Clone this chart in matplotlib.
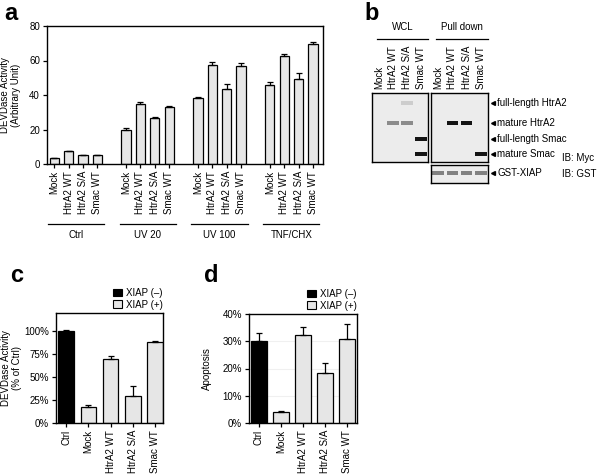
import matplotlib
matplotlib.use("Agg")
import matplotlib.pyplot as plt
import matplotlib.transforms as mtrans
from matplotlib.patches import Rectangle, Patch
import numpy as np

plt.rcParams['font.family'] = ['Liberation Sans', 'DejaVu Sans']
plt.rcParams['axes.linewidth'] = 1.0

# ---------------- data ----------------
a_groups = ["Ctrl", "UV 20", "UV 100", "TNF/CHX"]
a_samples = ["Mock", "HtrA2 WT", "HtrA2 S/A", "Smac WT"]
a_ctrl = [3.5, 7.5, 5.2, 5.5]
a_ctrl_err = [0.0, 0.0, 0.0, 0.0]
a_uv20 = [19.5, 35.0, 26.5, 33.0]
a_uv20_err = [1.3, 1.0, 0.6, 0.7]
a_uv100 = [38.0, 57.5, 43.5, 57.0]
a_uv100_err = [1.0, 1.5, 3.0, 1.3]
a_tnf = [46.0, 62.5, 49.5, 69.5]
a_tnf_err = [1.5, 1.5, 3.5, 1.0]

cd_labels = ["Ctrl", "Mock", "HtrA2 WT", "HtrA2 S/A", "Smac WT"]
cd_xiap = [False, True, True, True, True]
c_vals = [100, 17, 70, 29, 88]
c_err = [2, 3, 3, 11, 2]
d_vals = [30.0, 4.0, 32.3, 18.5, 31.0]
d_err = [3.0, 0.4, 3.0, 3.5, 5.5]

blot_lanes = ["Mock", "HtrA2 WT", "HtrA2 S/A", "Smac WT"]
blot_bands = ["full-length HtrA2", "mature HtrA2", "full-length Smac", "mature Smac"]
wcl_intensity = [[0, 0, 0.15, 0],
                 [0, 0.45, 0.45, 0],
                 [0, 0, 0, 1.0],
                 [0, 0, 0, 1.0]]
pd_intensity = [[0, 0, 0, 0],
                [0, 1.0, 1.0, 0],
                [0, 0, 0, 0],
                [0, 0, 0, 1.0]]
gst_intensity = [0.5, 0.5, 0.5, 0.5]

# ---------------- figure ----------------
W, H = 600, 476
fig = plt.figure(figsize=(6.0, 4.76), dpi=100)

def rect(l, t, r, b):
    return [l / W, 1 - b / H, (r - l) / W, (b - t) / H]

GRAY = '#e6e6e6'
FS = 7

def style(ax):
    ax.tick_params(direction='out', length=3, width=0.9, labelsize=FS, pad=2)

# ---- panel a ----
ax_a = fig.add_axes(rect(47, 26, 323, 164))
series = [(a_ctrl, a_ctrl_err), (a_uv20, a_uv20_err), (a_uv100, a_uv100_err), (a_tnf, a_tnf_err)]
pos_all, lab_all = [], []
for g, (vals, errs) in enumerate(series):
    pos = [g * 5 + i for i in range(len(vals))]
    ax_a.bar(pos, vals, width=0.65, color=GRAY, edgecolor='black', linewidth=0.9,
             yerr=[np.zeros(len(errs)), errs], capsize=2.3,
             error_kw=dict(elinewidth=0.9, capthick=0.9, ecolor='black'))
    pos_all += pos
    lab_all += a_samples
ax_a.set_xticks(pos_all)
ax_a.set_xticklabels(lab_all, rotation=90)
ax_a.set_xlim(-0.5, 18.7)
ax_a.set_ylim(0, 80)
ax_a.set_yticks([0, 20, 40, 60, 80])
style(ax_a)
ax_a.set_ylabel("DEVDase Activity\n(Arbitrary Unit)", fontsize=FS, linespacing=1.1)
ax_a.yaxis.set_label_coords(-0.094, 0.5)
tr = mtrans.blended_transform_factory(ax_a.transData, ax_a.transAxes)
for g, name in enumerate(a_groups):
    ax_a.plot([g * 5 - 0.45, g * 5 + 3.45], [-0.435, -0.435], color='black', lw=0.9,
              transform=tr, clip_on=False)
    ax_a.text(g * 5 + 1.5, -0.515, name, transform=tr, ha='center', va='center', fontsize=FS)

# ---- panels c and d ----
def cd_panel(box, vals, errs, ylim, yticks, xlim, ylab, labx, grid=False):
    ax = fig.add_axes(rect(*box))
    x = np.arange(len(vals))
    colors = [GRAY if f else 'black' for f in cd_xiap]
    if grid:
        for yt in yticks[1:-1]:
            ax.axhline(yt, color='#f0f0f0', lw=0.8, zorder=0)
    ax.bar(x, vals, width=0.7, color=colors, edgecolor='black', linewidth=0.9,
           yerr=[np.zeros(len(errs)), errs], capsize=2.5,
           error_kw=dict(elinewidth=0.9, capthick=0.9, ecolor='black'), zorder=2)
    ax.set_xticks(x)
    ax.set_xticklabels(cd_labels, rotation=90)
    ax.set_xlim(*xlim)
    ax.set_ylim(*ylim)
    ax.set_yticks(yticks)
    ax.set_yticklabels([f"{t}%" for t in yticks])
    style(ax)
    ax.set_ylabel(ylab, fontsize=FS, linespacing=1.1)
    ax.yaxis.set_label_coords(labx, 0.5)
    handles = [Patch(facecolor='black', edgecolor='black', lw=0.8, label='XIAP (–)'),
               Patch(facecolor=GRAY, edgecolor='black', lw=0.8, label='XIAP (+)')]
    ax.legend(handles=handles, loc='lower right', bbox_to_anchor=(1.0, 1.03),
              frameon=False, fontsize=FS, handlelength=0.85, handleheight=0.85,
              handletextpad=0.45, labelspacing=0.2, borderpad=0, borderaxespad=0)
    return ax

ax_c = cd_panel((56, 313, 163, 423), c_vals, c_err, (0, 120), [0, 25, 50, 75, 100],
                (-0.45, 4.35), "DEVDase Activity\n(% of Ctrl)", -0.318)
ax_d = cd_panel((249, 314, 357, 423), d_vals, d_err, (0, 40), [0, 10, 20, 30, 40],
                (-0.45, 4.45), "Apoptosis", -0.343, grid=True)

# ---- panel b (blot) ----
BG = '#ececec'
band_y = [10, 30, 46, 61]

def blot_axes(box, hpx):
    ax = fig.add_axes(rect(*box))
    ax.set_facecolor(BG)
    ax.set_xlim(0.5, 4.5)
    ax.set_ylim(hpx, 0)
    ax.set_yticks([])
    for s in ax.spines.values():
        s.set_linewidth(1.0)
    return ax

def draw_bands(ax, inten, ys, h=3.6):
    for bi, row in enumerate(inten):
        for li, v in enumerate(row):
            if v > 0:
                lvl = 0.93 - 0.85 * v
                ax.add_patch(Rectangle((li + 1 - 0.4, ys[bi] - h / 2), 0.8, h,
                                       facecolor=(lvl, lvl, lvl), edgecolor='none'))

ax_w = blot_axes((372, 93, 428, 162), 69)
ax_p = blot_axes((431, 93, 488, 162), 69)
ax_g = blot_axes((431, 165, 488, 183), 18)
draw_bands(ax_w, wcl_intensity, band_y)
draw_bands(ax_p, pd_intensity, band_y)
draw_bands(ax_g, [gst_intensity], [8], h=3.2)

for ax in (ax_w, ax_p):
    ax.xaxis.tick_top()
    ax.set_xticks(range(1, 5))
    ax.set_xticklabels(blot_lanes, rotation=90, fontsize=FS)
    ax.tick_params(axis='x', length=0, pad=3)
ax_g.set_xticks([])

for ax, name, x0 in ((ax_w, "WCL", 0.09), (ax_p, "Pull down", 0.09)):
    ax.plot([x0, 1.0], [1.783, 1.783], transform=ax.transAxes, color='black', lw=0.9,
            clip_on=False)
    ax.text(0.5 + x0 / 2, 1.95, name, transform=ax.transAxes, ha='center', va='center',
            fontsize=FS)

trp = mtrans.blended_transform_factory(ax_p.transAxes, ax_p.transData)
for name, y in zip(blot_bands, band_y):
    ax_p.plot([1.08], [y], marker='<', ms=2.8, color='black', transform=trp, clip_on=False)
    ax_p.text(1.16, y, name, transform=trp, ha='left', va='center', fontsize=FS)
trg = mtrans.blended_transform_factory(ax_g.transAxes, ax_g.transData)
ax_g.plot([1.08], [8], marker='<', ms=2.8, color='black', transform=trg, clip_on=False)
ax_g.text(1.16, 8, "GST-XIAP", transform=trg, ha='left', va='center', fontsize=FS)

fig.text(562 / W, 1 - 158 / H, "IB: Myc", ha='left', va='center', fontsize=FS)
fig.text(562 / W, 1 - 174 / H, "IB: GST", ha='left', va='center', fontsize=FS)

# ---- panel letters ----
for lt, (x, y) in {"a": (4, 13), "b": (364, 13), "c": (10, 276), "d": (204, 276)}.items():
    fig.text(x / W, 1 - y / H, lt, fontsize=17, fontweight='bold', ha='left', va='center')

fig.savefig("out.png", dpi=100)
